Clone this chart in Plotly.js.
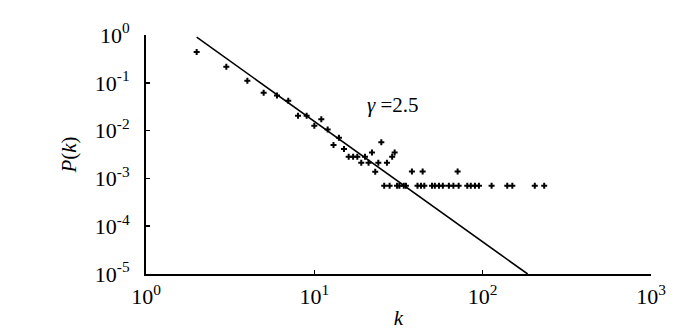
<!DOCTYPE html>
<html>
<head>
<meta charset="utf-8">
<script src="https://cdn.plot.ly/plotly-3.0.1.min.js"></script>
<style>html,body{margin:0;padding:0;background:#fff;}#chart{width:700px;height:331px;}</style>
</head>
<body>
<div id="chart"></div>
<script>
// Degree distribution points (k, P(k))
const degree = [2,3,4,5,6,7,8,9,10,11,12,13,14,15,16,17,18,19,20,21,22,23,24,25,27,29,30,
  26,28,31,32,34,35,41,43,45,50,52,55,58,63,67,72,81,85,90,95,113,140,150,204,232,
  38,44,71];
const probability = [0.44,0.217,0.11,0.062,0.054,0.042,0.0205,0.0205,0.0127,0.0172,0.0106,0.005,0.0071,0.0041,0.00284,0.00284,0.00284,0.00213,0.00284,0.00213,0.0035,0.00138,0.00213,0.0057,0.00213,0.00284,0.0035,
  0.0007,0.0007,0.0007,0.0007,0.0007,0.0007,0.0007,0.0007,0.0007,0.0007,0.0007,0.0007,0.0007,0.0007,0.0007,0.0007,0.0007,0.0007,0.0007,0.0007,0.0007,0.0007,0.0007,0.0007,0.0007,
  0.0014,0.0014,0.0014];
// Power-law fit line, gamma = 2.5
const fitK = [2, 185];
const fitP = [0.9, 1.0e-5];
// Tick labels
const xTickVals = [1, 10, 100, 1000];
const xTickText = ['10<sup>0</sup>', '10<sup>1</sup>', '10<sup>2</sup>', '10<sup>3</sup>'];
const yTickVals = [1e-5, 1e-4, 1e-3, 1e-2, 1e-1, 1];
const yTickText = ['10<sup>-5</sup>', '10<sup>-4</sup>', '10<sup>-3</sup>', '10<sup>-2</sup>', '10<sup>-1</sup>', '10<sup>0</sup>'];
const gammaLabel = '<i>γ</i> =2.5';

const serif = 'Liberation Serif';

const traces = [
  {x: fitK, y: fitP, mode: 'lines', line: {color: '#000', width: 1.6}, hoverinfo: 'skip', showlegend: false},
  {x: degree, y: probability, mode: 'markers', marker: {symbol: 'cross', size: 5, color: '#000', line: {width: 0}}, showlegend: false}
];

const layout = {
  width: 700, height: 331,
  margin: {l: 146, r: 49, t: 35, b: 57, pad: 0},
  paper_bgcolor: '#fff', plot_bgcolor: '#fff',
  font: {family: serif, color: '#000', size: 22},
  showlegend: false,
  xaxis: {
    type: 'log', range: [0, 3], showgrid: false, zeroline: false,
    showline: true, linecolor: '#000', linewidth: 2, mirror: false,
    ticks: 'inside', ticklen: 4, tickwidth: 1.5, tickcolor: '#000',
    tickmode: 'array', tickvals: xTickVals, ticktext: xTickText,
    tickfont: {family: serif, size: 22, color: '#000'},
    ticklabelstandoff: 2,
    title: {text: '<i>k</i>', font: {family: serif, size: 21, color: '#000'}, standoff: 2}
  },
  yaxis: {
    type: 'log', range: [-5, 0], showgrid: false, zeroline: false,
    showline: true, linecolor: '#000', linewidth: 2, mirror: false,
    ticks: 'inside', ticklen: 4, tickwidth: 1.5, tickcolor: '#000',
    tickmode: 'array', tickvals: yTickVals, ticktext: yTickText,
    tickfont: {family: serif, size: 22, color: '#000'},
    ticklabelstandoff: 10,
    title: {text: '<i>P</i>(<i>k</i>)', font: {family: serif, size: 21, color: '#000'}, standoff: 12}
  },
  annotations: [{
    xref: 'paper', yref: 'paper', x: 0.489, y: 0.707, text: gammaLabel, showarrow: false,
    font: {family: serif, size: 21, color: '#000'}, xanchor: 'center', yanchor: 'middle'
  }]
};

Plotly.newPlot('chart', traces, layout, {displayModeBar: false, staticPlot: true}).then(function (gd) {
  gd.querySelectorAll('text, tspan').forEach(function (el) {
    const cs = window.getComputedStyle(el);
    el.setAttribute('font-size', cs.fontSize);
    el.setAttribute('font-family', serif);
    if (cs.fontStyle) el.setAttribute('font-style', cs.fontStyle);
    el.setAttribute('fill', '#000');
  });
});
</script>
</body>
</html>
